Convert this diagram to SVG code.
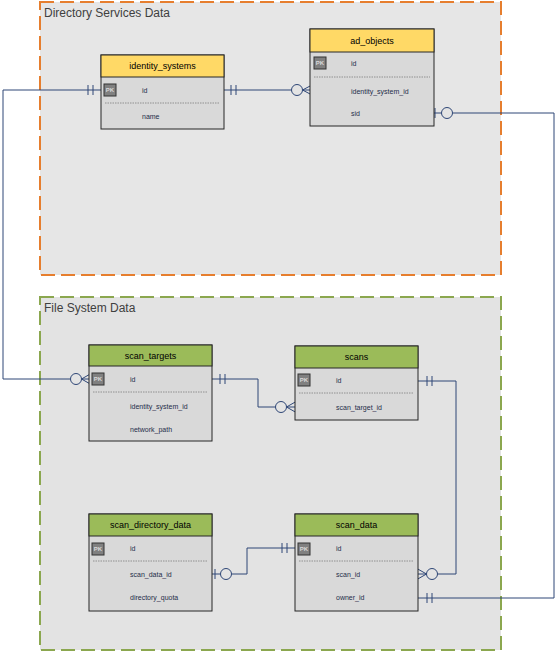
<svg xmlns="http://www.w3.org/2000/svg" width="558" height="656" viewBox="0 0 558 656">
<style>
.grpDS{fill:#E6E6E6;stroke:#E67E2E;stroke-width:2;stroke-dasharray:14 6}
.grpFS{fill:#E3E3E3;stroke:#8BA74F;stroke-width:2;stroke-dasharray:14 6}
.glabel{font-family:"Liberation Sans",Arial,sans-serif;font-size:12px;fill:#404040}
.body{fill:#D9D9D9;stroke:#262626;stroke-width:1}
.hy{fill:#FFD966;stroke:#262626;stroke-width:1}
.hg{fill:#9BBB59;stroke:#262626;stroke-width:1}
.title{font-family:"Liberation Sans",Arial,sans-serif;font-size:9px;fill:#000;text-anchor:middle}
.f{font-family:"Liberation Sans",Arial,sans-serif;font-size:7px;fill:#1F2D4A}
.pk{fill:#808080;stroke:#333;stroke-width:1}
.pkt{font-family:"Liberation Sans",Arial,sans-serif;font-size:6px;font-weight:bold;fill:#D9D9D9;text-anchor:middle}
.sep{stroke:#7F7F7F;stroke-width:0.8;stroke-dasharray:1.5 1}
.ln{fill:none;stroke:#2E4676;stroke-width:1}
.cir{fill:#E4E4E4;stroke:#2E4676;stroke-width:1}
</style>
<g id="group-directory">
<rect class="grpDS" x="40" y="2" width="461" height="273"/>
<text class="glabel" x="44" y="17">Directory Services Data</text>
</g>
<g id="group-filesystem">
<rect class="grpFS" x="40" y="297" width="461" height="353"/>
<text class="glabel" x="44" y="312">File System Data</text>
</g>

<g id="connectors">
<!-- identity_systems.id -> ad_objects.identity_system_id -->
<path class="ln" d="M224 90 H291.5 M231 85 V95 M236 85 V95 M302.5 90 L312 85 M302.5 90 L312 95 M302.5 90 H312"/>
<circle class="cir" cx="297" cy="90" r="5.5"/>
<!-- identity_systems.id -> scan_targets.identity_system_id -->
<path class="ln" d="M101 90 H3 V379 H70.5 M88 85 V95 M93 85 V95 M81.5 379 L92 373 M81.5 379 L92 385 M81.5 379 H92"/>
<circle class="cir" cx="76" cy="379" r="5.5"/>
<!-- ad_objects.sid -> scan_data.owner_id -->
<path class="ln" d="M430 113 H441.5 M452.5 113 H554 V598 H418 M435 108 V118 M427 593 V603 M432 593 V603"/>
<circle class="cir" cx="447" cy="113" r="5.5"/>
<!-- scan_targets.id -> scans.scan_target_id -->
<path class="ln" d="M212 379 H258 V407 H275.5 M220 374 V384 M225 374 V384 M286.5 407 L297 401 M286.5 407 L297 413 M286.5 407 H297"/>
<circle class="cir" cx="281" cy="407" r="5.5"/>
<!-- scans.id -> scan_data.scan_id -->
<path class="ln" d="M418 381 H456 V574 H437.5 M427 376 V386 M432 376 V386 M426.5 574 L416 568 M426.5 574 L416 580 M426.5 574 H416"/>
<circle class="cir" cx="432" cy="574" r="5.5"/>
<!-- scan_directory_data.scan_data_id -> scan_data.id -->
<path class="ln" d="M210 574 H220.5 M231.5 574 H247 V548 H298 M215 569 V579 M282 543 V553 M287 543 V553"/>
<circle class="cir" cx="226" cy="574" r="5.5"/>
</g>

<g id="identity_systems">
<rect class="body" x="101" y="55" width="123" height="74"/>
<rect class="hy" x="101" y="55" width="123" height="22"/>
<text class="title" x="162.5" y="69">identity_systems</text>
<rect class="pk" x="104" y="84" width="12" height="12"/>
<text class="pkt" x="110" y="92">PK</text>
<text class="f" x="142" y="92.5">id</text>
<line class="sep" x1="105" y1="103" x2="220" y2="103"/>
<text class="f" x="142" y="118.5">name</text>
</g>

<g id="ad_objects">
<rect class="body" x="310" y="29" width="124" height="97"/>
<rect class="hy" x="310" y="29" width="124" height="23"/>
<text class="title" x="372" y="43.5">ad_objects</text>
<rect class="pk" x="314" y="57" width="12" height="12"/>
<text class="pkt" x="320" y="65">PK</text>
<text class="f" x="351" y="65.5">id</text>
<line class="sep" x1="314" y1="77" x2="430" y2="77"/>
<text class="f" x="351" y="93.5">identity_system_id</text>
<text class="f" x="351" y="115.5">sid</text>
</g>

<g id="scan_targets">
<rect class="body" x="89" y="345" width="123" height="96"/>
<rect class="hg" x="89" y="345" width="123" height="21"/>
<text class="title" x="150.5" y="359">scan_targets</text>
<rect class="pk" x="92" y="373" width="12" height="12"/>
<text class="pkt" x="98" y="381">PK</text>
<text class="f" x="130" y="381.5">id</text>
<line class="sep" x1="93" y1="392" x2="208" y2="392"/>
<text class="f" x="130" y="408.5">identity_system_id</text>
<text class="f" x="130" y="431.5">network_path</text>
</g>

<g id="scans">
<rect class="body" x="295" y="346" width="123" height="74"/>
<rect class="hg" x="295" y="346" width="123" height="22"/>
<text class="title" x="356.5" y="360">scans</text>
<rect class="pk" x="298" y="374" width="12" height="12"/>
<text class="pkt" x="304" y="382">PK</text>
<text class="f" x="336" y="382.5">id</text>
<line class="sep" x1="299" y1="393" x2="414" y2="393"/>
<text class="f" x="336" y="409.5">scan_target_id</text>
</g>

<g id="scan_directory_data">
<rect class="body" x="89" y="514" width="123" height="97"/>
<rect class="hg" x="89" y="514" width="123" height="22"/>
<text class="title" x="150.5" y="528">scan_directory_data</text>
<rect class="pk" x="92" y="543" width="12" height="12"/>
<text class="pkt" x="98" y="551">PK</text>
<text class="f" x="130" y="550.5">id</text>
<line class="sep" x1="93" y1="561" x2="208" y2="561"/>
<text class="f" x="130" y="576.5">scan_data_id</text>
<text class="f" x="130" y="599.5">directory_quota</text>
</g>

<g id="scan_data">
<rect class="body" x="295" y="514" width="123" height="97"/>
<rect class="hg" x="295" y="514" width="123" height="22"/>
<text class="title" x="356.5" y="528">scan_data</text>
<rect class="pk" x="298" y="543" width="12" height="12"/>
<text class="pkt" x="304" y="551">PK</text>
<text class="f" x="336" y="550.5">id</text>
<line class="sep" x1="299" y1="561" x2="414" y2="561"/>
<text class="f" x="336" y="576.5">scan_id</text>
<text class="f" x="336" y="599.5">owner_id</text>
</g>
</svg>
